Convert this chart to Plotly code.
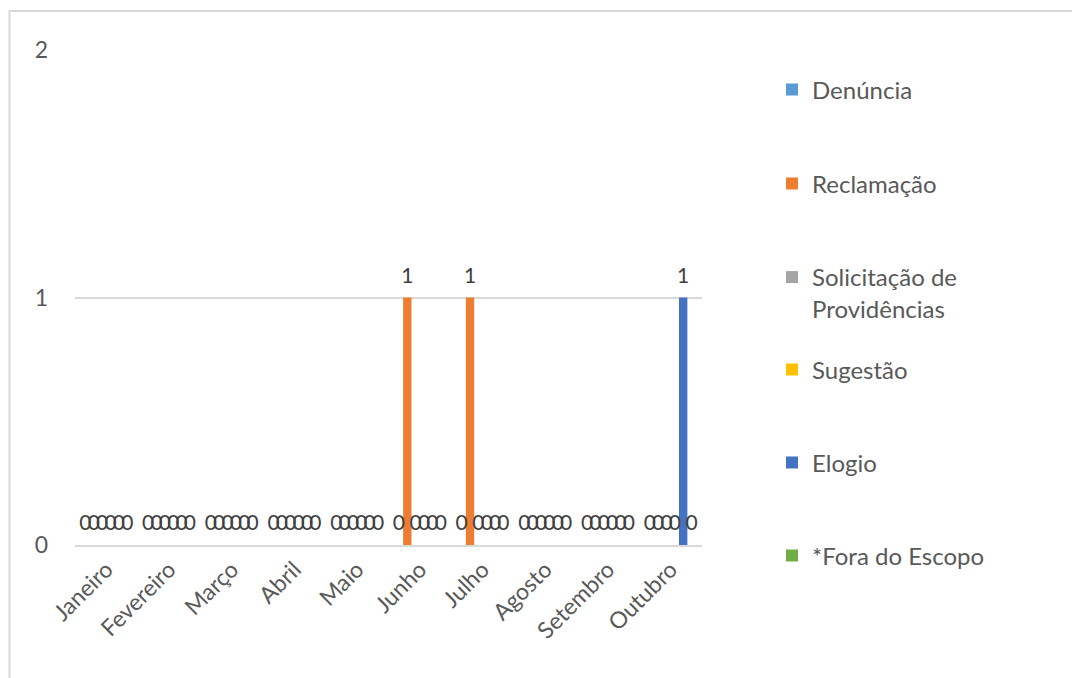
import plotly.graph_objects as go

months = ["Janeiro", "Fevereiro", "Março", "Abril", "Maio", "Junho",
          "Julho", "Agosto", "Setembro", "Outubro"]
series_names = ["Denúncia", "Reclamação", "Solicitação de<br>Providências",
                "Sugestão", "Elogio", "*Fora do Escopo"]
denuncia     = [0, 0, 0, 0, 0, 0, 0, 0, 0, 0]
reclamacao   = [0, 0, 0, 0, 0, 1, 1, 0, 0, 0]
solicitacao  = [0, 0, 0, 0, 0, 0, 0, 0, 0, 0]
sugestao     = [0, 0, 0, 0, 0, 0, 0, 0, 0, 0]
elogio       = [0, 0, 0, 0, 0, 0, 0, 0, 0, 1]
fora_escopo  = [0, 0, 0, 0, 0, 0, 0, 0, 0, 0]
y_ticks = [0, 1, 2]

values = [denuncia, reclamacao, solicitacao, sugestao, elogio, fora_escopo]
colors = ["#5B9BD5", "#ED7D31", "#A5A5A5", "#FFC000", "#4472C4", "#70AD47"]

FONT = "Lato, 'Open Sans', sans-serif"
TXT = "#595959"
OFF = 8  # browser default body margin

fig = go.Figure()
legend_ids = ["legend", "legend2", "legend3", "legend4", "legend5", "legend6"]
for i, (name, vals, col) in enumerate(zip(series_names, values, colors)):
    fig.add_trace(go.Bar(
        x=months, y=vals, name=name, marker_color=col,
        marker_line_width=0, offsetgroup=str(i), legend=legend_ids[i],
        showlegend=True,
    ))
for i, (name, vals, col) in enumerate(zip(series_names, values, colors)):
    fig.add_trace(go.Scatter(
        x=months, y=vals, mode="markers+text", text=[str(v) for v in vals],
        textposition="top center", offsetgroup=str(i),
        marker=dict(size=14, opacity=0, color=col),
        textfont=dict(family=FONT, size=21, color="#404040"),
        showlegend=False, hoverinfo="skip",
    ))

plot_top, plot_bottom, plot_left, plot_right = 50 - OFF, 545 - OFF, 75 - OFF, 702 - OFF
ph = plot_bottom - plot_top
pw = plot_right - plot_left

leg_y_px = [90, 184, 293, 370, 463, 556]
legends = {}
for lid, ypx in zip(legend_ids, leg_y_px):
    legends[lid] = dict(
        x=(772 - OFF - plot_left) / pw, xanchor="left",
        y=(plot_bottom - (ypx - OFF)) / ph, yanchor="middle",
        font=dict(family=FONT, size=24, color=TXT),
        bgcolor="rgba(0,0,0,0)", valign="top", itemclick=False,
    )

fig.update_layout(
    width=1080, height=678,
    margin=dict(l=plot_left, r=1080 - plot_right, t=plot_top, b=678 - plot_bottom),
    paper_bgcolor="white", plot_bgcolor="white",
    barmode="group", bargap=0.2, bargroupgap=0.0,
    scattermode="group", scattergap=0.2,
    font=dict(family=FONT, color=TXT),
    xaxis=dict(
        type="category", tickangle=-45, showgrid=False, zeroline=False,
        showline=True, linecolor="#D9D9D9", linewidth=2,
        tickfont=dict(family=FONT, size=23, color=TXT), ticks="",
    ),
    yaxis=dict(
        range=[0, 2], tickvals=y_ticks, showgrid=True, gridcolor="#D9D9D9",
        gridwidth=2, zeroline=False, showline=False, ticks="",
        tickfont=dict(family=FONT, size=23, color=TXT), ticklabelstandoff=26,
    ),
    shapes=[dict(
        type="rect", xref="paper", yref="paper",
        x0=(9.5 - OFF - plot_left) / pw, x1=(1100 - plot_left) / pw,
        y0=(plot_bottom - 700) / ph, y1=(plot_bottom - (11 - OFF)) / ph,
        line=dict(color="#D9D9D9", width=2), fillcolor="rgba(0,0,0,0)",
        layer="below",
    )],
    **legends,
)

fig.write_html("out.html")
